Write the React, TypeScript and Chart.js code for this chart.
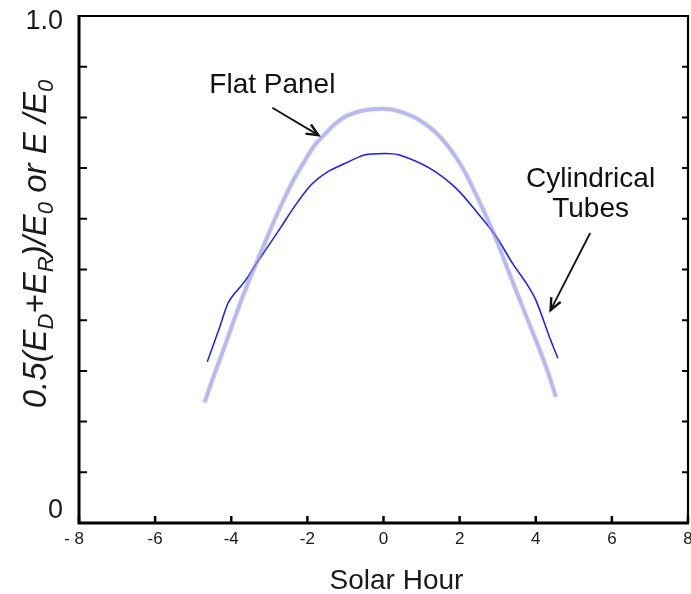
import React, { useEffect, useRef } from "react";
import { Chart, registerables } from "chart.js";

Chart.register(...registerables);

// Flat panel curve (x = solar hour, y = ratio)
const flatX = [-4.70, -4.44, -4.17, -3.91, -3.65, -3.39, -3.12, -2.86, -2.60, -2.34, -2.07, -1.81, -1.55, -1.29, -0.94, -0.50, 0, 0.42, 0.94, 1.47, 2.0, 2.43, 2.87, 3.22, 3.57, 3.92, 4.27, 4.53];
const flatY = [0.238, 0.294, 0.349, 0.404, 0.456, 0.504, 0.552, 0.598, 0.641, 0.680, 0.714, 0.745, 0.766, 0.786, 0.804, 0.814, 0.817, 0.812, 0.795, 0.763, 0.710, 0.648, 0.576, 0.509, 0.442, 0.376, 0.308, 0.249];

// Cylindrical tubes curve
const cylX = [-4.63, -4.30, -4.09, -3.91, -3.65, -3.39, -3.04, -2.69, -2.34, -1.90, -1.46, -1.02, -0.50, 0.03, 0.42, 1.21, 1.91, 2.52, 2.96, 3.39, 3.75, 4.00, 4.36, 4.58];
const cylY = [0.318, 0.387, 0.433, 0.453, 0.476, 0.506, 0.545, 0.584, 0.624, 0.667, 0.693, 0.709, 0.726, 0.729, 0.726, 0.700, 0.660, 0.607, 0.565, 0.512, 0.473, 0.440, 0.367, 0.325];

const xTickValues = [-8, -6, -4, -2, 0, 2, 4, 6, 8];
const xTickLabels = ["- 8", "-6", "-4", "-2", "0", "2", "4", "6", "8"];
const yMinorTicks = [0.1, 0.2, 0.3, 0.4, 0.5, 0.6, 0.7, 0.8, 0.9];
const yTickLabels = ["0", "1.0"];

const FONT = "'Liberation Sans', Arial, Helvetica, sans-serif";

const annotations = [
  { lines: ["Flat Panel"], tx: -2.92, ty: 0.848, ax1: -2.92, ay1: 0.819, ax2: -1.71, ay2: 0.765 },
  { lines: ["Cylindrical", "Tubes"], tx: 5.44, ty: 0.663, ax1: 5.43, ay1: 0.572, ax2: 4.39, ay2: 0.420 },
];

const glowPlugin = {
  id: "glowPlugin",
  beforeDatasetDraw(chart: any, args: any) {
    if (args.index === 0) {
      chart.ctx.save();
      chart.ctx.shadowColor = "rgba(150,150,230,0.7)";
      chart.ctx.shadowBlur = 2;
    }
  },
  afterDatasetDraw(chart: any, args: any) {
    if (args.index === 0) chart.ctx.restore();
  },
};

const framePlugin = {
  id: "framePlugin",
  afterDraw(chart: any) {
    const ctx: CanvasRenderingContext2D = chart.ctx;
    const xs = chart.scales.x;
    const ys = chart.scales.y;
    const L = xs.getPixelForValue(-8);
    const R = xs.getPixelForValue(8);
    const T = ys.getPixelForValue(1);
    const B = ys.getPixelForValue(0);
    ctx.save();
    ctx.strokeStyle = "#000";
    ctx.lineCap = "butt";
    ctx.lineWidth = 2.2;
    ctx.beginPath();
    ctx.moveTo(L, T);
    ctx.lineTo(R, T);
    ctx.lineTo(R, B);
    ctx.stroke();
    ctx.lineWidth = 3;
    ctx.beginPath();
    ctx.moveTo(L, T - 1);
    ctx.lineTo(L, B);
    ctx.lineTo(R + 1, B);
    ctx.stroke();
    ctx.lineWidth = 2;
    for (const v of yMinorTicks) {
      const py = ys.getPixelForValue(v);
      ctx.beginPath();
      ctx.moveTo(L, py);
      ctx.lineTo(L + 8, py);
      ctx.moveTo(R, py);
      ctx.lineTo(R - 6, py);
      ctx.stroke();
    }
    ctx.lineWidth = 2.5;
    for (const v of xTickValues) {
      const px = xs.getPixelForValue(v);
      ctx.beginPath();
      ctx.moveTo(px, B);
      ctx.lineTo(px, B - 7);
      ctx.stroke();
    }
    ctx.fillStyle = "#1a1a1a";
    ctx.font = `17px ${FONT}`;
    ctx.textBaseline = "alphabetic";
    xTickValues.forEach((v, i) => {
      const px = xs.getPixelForValue(v);
      if (i === 0) {
        ctx.textAlign = "right";
        ctx.fillText(xTickLabels[i], px + 5, B + 21);
      } else {
        ctx.textAlign = "center";
        ctx.fillText(xTickLabels[i], px, B + 21);
      }
    });
    ctx.font = `27px ${FONT}`;
    ctx.textAlign = "right";
    ctx.fillText(yTickLabels[0], L - 16, B - 5);
    ctx.fillText(yTickLabels[1], L - 16, T + 13);
    ctx.font = `28px ${FONT}`;
    ctx.textAlign = "center";
    ctx.fillText("Solar Hour", (L + R) / 2 + 13, B + 66);

    const base = 33;
    const sub = 22;
    const parts: [string, boolean][] = [
      ["0.5(E", false], ["D", true], ["+E", false], ["R", true], [")/E", false], ["0", true],
      [" or E /E", false], ["0", true],
    ];
    let total = 0;
    for (const [t, s] of parts) {
      ctx.font = `italic ${s ? sub : base}px ${FONT}`;
      total += ctx.measureText(t).width;
    }
    ctx.translate(46, 244);
    ctx.rotate(-Math.PI / 2);
    ctx.textAlign = "left";
    let cx = -total / 2;
    for (const [t, s] of parts) {
      ctx.font = `italic ${s ? sub : base}px ${FONT}`;
      ctx.fillText(t, cx, s ? 7 : 0);
      cx += ctx.measureText(t).width;
    }
    ctx.restore();

    ctx.save();
    ctx.fillStyle = "#111";
    ctx.font = `28px ${FONT}`;
    ctx.textAlign = "center";
    for (const a of annotations) {
      a.lines.forEach((ln, i) => {
        ctx.fillText(ln, xs.getPixelForValue(a.tx), ys.getPixelForValue(a.ty) + i * 30);
      });
      const x1 = xs.getPixelForValue(a.ax1), y1 = ys.getPixelForValue(a.ay1);
      const x2 = xs.getPixelForValue(a.ax2), y2 = ys.getPixelForValue(a.ay2);
      ctx.strokeStyle = "#111";
      ctx.lineWidth = 1.8;
      ctx.beginPath();
      ctx.moveTo(x1, y1);
      ctx.lineTo(x2, y2);
      ctx.stroke();
      const ang = Math.atan2(y2 - y1, x2 - x1);
      const hl = 13, hw = 0.42;
      ctx.lineWidth = 2.4;
      ctx.beginPath();
      ctx.moveTo(x2 - hl * Math.cos(ang - hw), y2 - hl * Math.sin(ang - hw));
      ctx.lineTo(x2, y2);
      ctx.lineTo(x2 - hl * Math.cos(ang + hw), y2 - hl * Math.sin(ang + hw));
      ctx.stroke();
    }
    ctx.restore();
  },
};

export default function App() {
  const ref = useRef<HTMLCanvasElement>(null);
  useEffect(() => {
    if (!ref.current) return;
    const chart = new Chart(ref.current, {
      type: "line",
      data: {
        datasets: [
          {
            label: "Flat Panel",
            data: flatX.map((x, i) => ({ x, y: flatY[i] })),
            borderColor: "rgba(150,150,230,0.5)",
            borderWidth: 4,
            pointRadius: 0,
            tension: 0.4,
          },
          {
            label: "Cylindrical Tubes",
            data: cylX.map((x, i) => ({ x, y: cylY[i] })),
            borderColor: "#1a1aff",
            borderWidth: 1.5,
            pointRadius: 0,
            tension: 0.3,
          },
        ],
      },
      options: {
        animation: false,
        responsive: false,
        events: [],
        layout: { padding: { left: 79, right: 3, top: 16, bottom: 71 } },
        plugins: { legend: { display: false }, tooltip: { enabled: false } },
        scales: {
          x: { type: "linear", min: -8, max: 8, display: false },
          y: { type: "linear", min: 0, max: 1, display: false },
        },
      },
      plugins: [glowPlugin, framePlugin],
    } as any);
    return () => chart.destroy();
  }, []);
  return (
    <div style={{ position: "fixed", left: 0, top: 0, width: 691, height: 594, background: "#fff" }}>
      <canvas ref={ref} width={691} height={594} style={{ width: 691, height: 594, display: "block" }} />
    </div>
  );
}
